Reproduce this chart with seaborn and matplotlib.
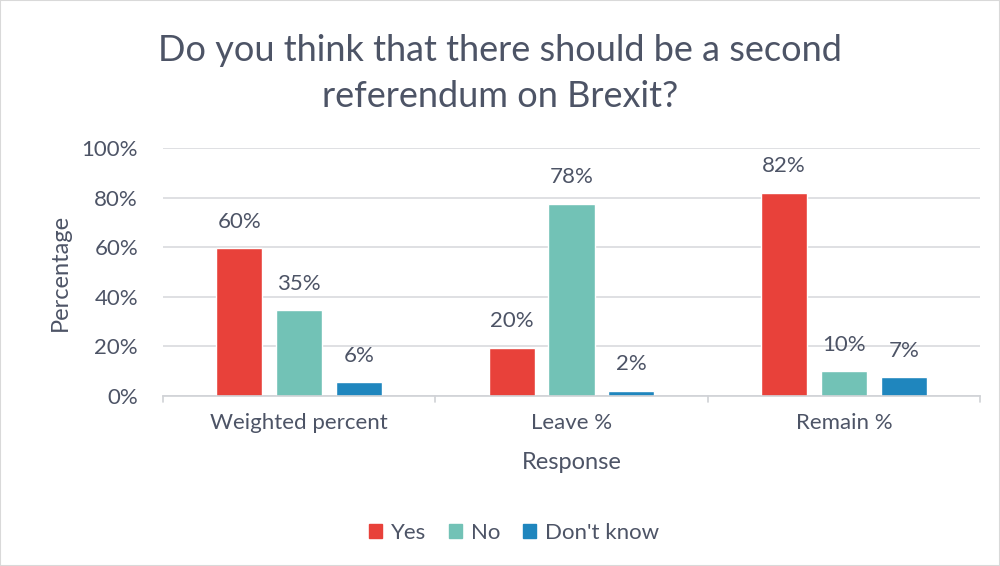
import matplotlib
matplotlib.use("Agg")
import matplotlib.pyplot as plt
import seaborn as sns
import pandas as pd
from matplotlib.patches import Rectangle

categories = ["Weighted percent", "Leave %", "Remain %"]
responses = ["Yes", "No", "Don't know"]
yes_vals = [59.5, 19.5, 82.0]
no_vals = [34.5, 77.5, 10.0]
dk_vals = [5.5, 2.0, 7.5]
yes_labels = ["60%", "20%", "82%"]
no_labels = ["35%", "78%", "10%"]
dk_labels = ["6%", "2%", "7%"]
yticks = [0, 20, 40, 60, 80, 100]
ytick_labels = ["0%", "20%", "40%", "60%", "80%", "100%"]
colors = ["#E8413A", "#72C2B6", "#1F86BE"]

rows = []
for vals, resp in zip([yes_vals, no_vals, dk_vals], responses):
    for c, v in zip(categories, vals):
        rows.append({"Category": c, "Response": resp, "Value": v})
df = pd.DataFrame(rows)

sns.set_theme(style="white")
plt.rcParams['font.family'] = ['Lato', 'DejaVu Sans']
text_color = "#4D5466"

fig = plt.figure(figsize=(10, 5.66), dpi=100)
ax = fig.add_axes([0.163, 0.3004, 0.817, 0.4381])

sns.barplot(data=df, x="Category", y="Value", hue="Response", order=categories,
            hue_order=responses, palette=colors, width=0.66, gap=0.23,
            saturation=1, ax=ax, legend=True)

all_labels = [yes_labels, no_labels, dk_labels]
for cont, labs in zip(ax.containers, all_labels):
    ax.bar_label(cont, labels=labs, padding=12, fontsize=16, color=text_color)

ax.set_ylim(0, 100)
ax.set_xlim(-0.5, 2.5)
ax.set_yticks(yticks)
ax.set_yticklabels(ytick_labels, fontsize=16, color=text_color)
ax.tick_params(axis='x', labelsize=16, labelcolor=text_color, length=0, pad=12)
ax.tick_params(axis='y', length=0, pad=18)
ax.yaxis.grid(True, color="#D9DADE", linewidth=1.2)
ax.set_axisbelow(True)
for s in ["top", "right", "left"]:
    ax.spines[s].set_visible(False)
ax.spines["bottom"].set_color("#D0D2D6")
ax.spines["bottom"].set_linewidth(1.2)
for xb in [-0.5, 0.5, 1.5, 2.5]:
    ax.plot([xb, xb], [0, -2.5], color="#D0D2D6", lw=1.2, clip_on=False)

ax.set_xlabel("Response", fontsize=17, color=text_color, labelpad=14)
ax.set_ylabel("Percentage", fontsize=17, color=text_color, labelpad=8)

fig.suptitle("Do you think that there should be a second\nreferendum on Brexit?",
             x=0.5, y=0.94, fontsize=26, color=text_color, linespacing=1.5)

ax.legend_.remove()
handles = [Rectangle((0, 0), 1, 1, color=c) for c in colors]
fig.legend(handles, responses, loc="center", bbox_to_anchor=(0.514, 0.058), ncol=3,
           frameon=False, fontsize=16, labelcolor=text_color, handlelength=0.6,
           handleheight=0.6, handletextpad=0.4, columnspacing=1.0)

fig.patches.append(Rectangle((0, 0), 1, 1, transform=fig.transFigure, fill=False,
                             edgecolor="#D9D9D9", lw=1.5))

fig.savefig("out.png", dpi=100)
